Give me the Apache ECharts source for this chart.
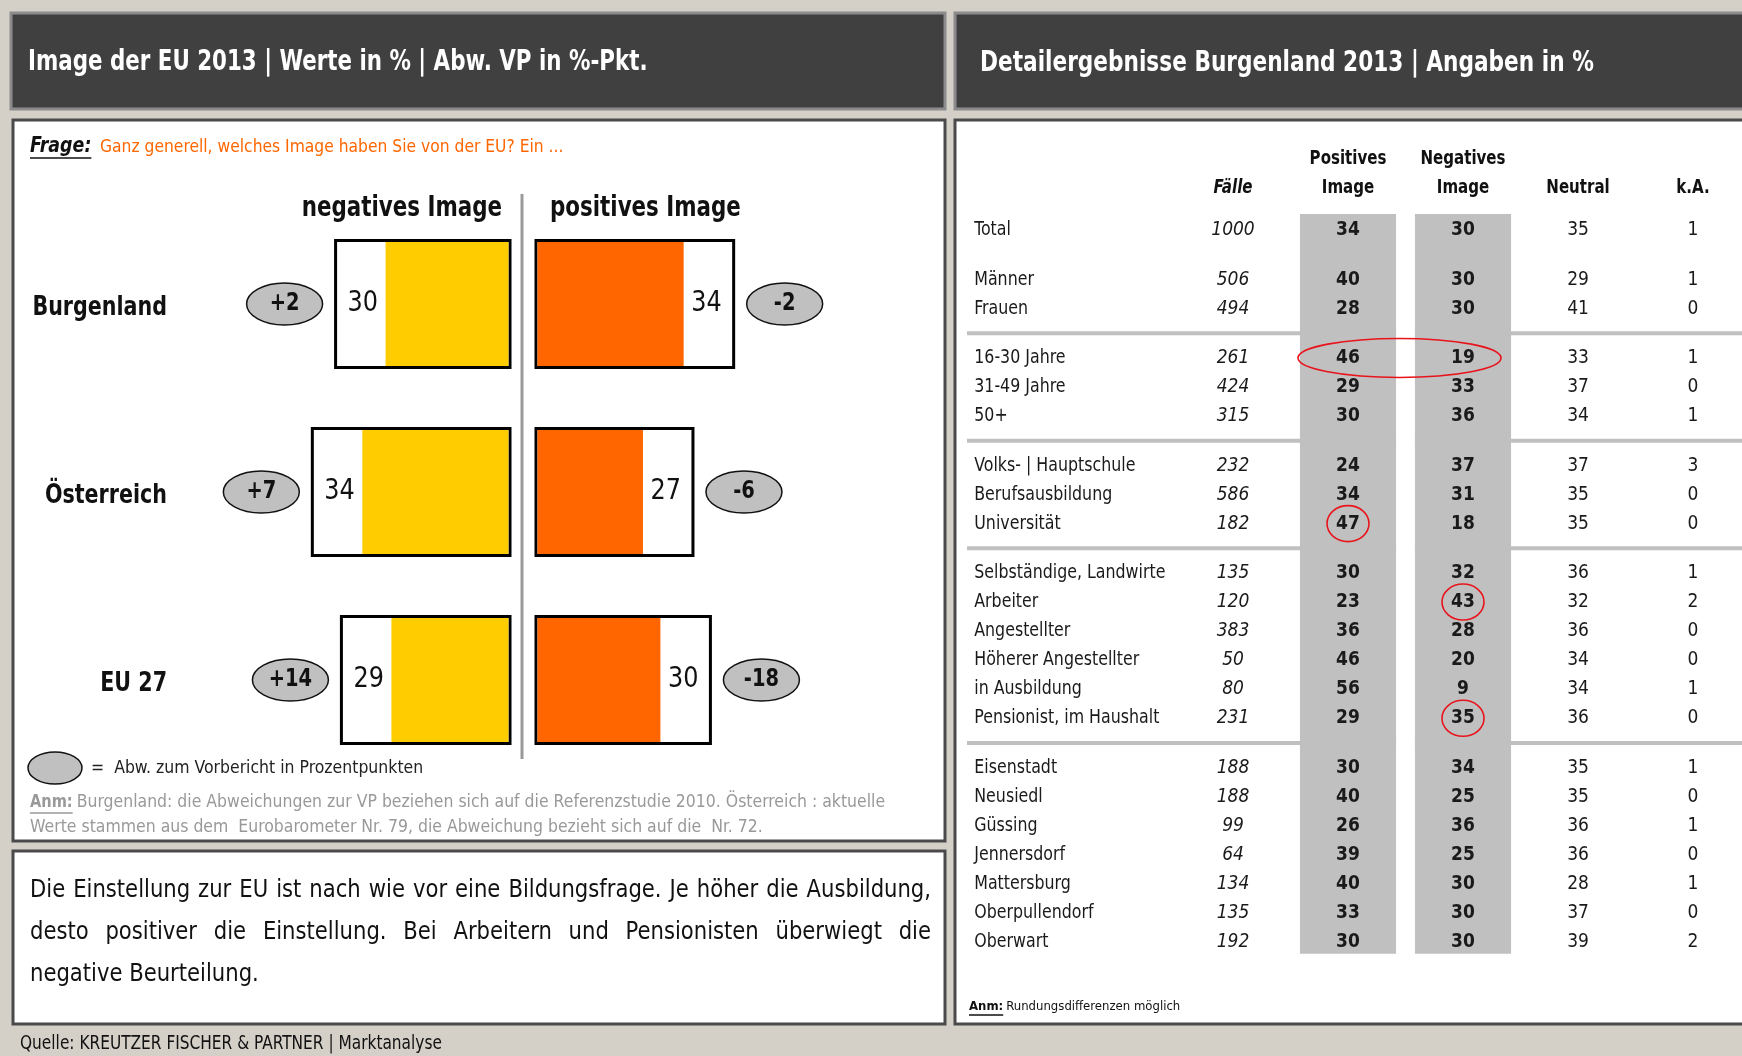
<!DOCTYPE html>
<html>
<head>
<meta charset="utf-8">
<script src="https://cdn.jsdelivr.net/npm/echarts@6/dist/echarts.min.js"></script>
<style>
  html, body { margin: 0; padding: 0; background: #d4d0c8; }
  #main { width: 1742px; height: 1056px; }
</style>
</head>
<body>
<div id="main"></div>
<script>
var FONT = "'Liberation Sans Narrow','DejaVu Sans Condensed','Open Sans',sans-serif";

/* Image der EU - Werte und Abweichungen */
var regions = ['Burgenland', 'Österreich', 'EU 27'];
var negValues = [30, 34, 29];
var posValues = [34, 27, 30];
var negDiff = ['+2', '+7', '+14'];
var posDiff = ['-2', '-6', '-18'];

/* Detailergebnisse Burgenland */
var rowLabels = ['Total', 'Männer', 'Frauen', '16-30 Jahre', '31-49 Jahre', '50+',
    'Volks- | Hauptschule', 'Berufsausbildung', 'Universität',
    'Selbständige, Landwirte', 'Arbeiter', 'Angestellter', 'Höherer Angestellter', 'in Ausbildung', 'Pensionist, im Haushalt',
    'Eisenstadt', 'Neusiedl', 'Güssing', 'Jennersdorf', 'Mattersburg', 'Oberpullendorf', 'Oberwart'];
var rowGroups = [0, 1, 1, 2, 2, 2, 3, 3, 3, 4, 4, 4, 4, 4, 4, 5, 5, 5, 5, 5, 5, 5];
var faelle = [1000, 506, 494, 261, 424, 315, 232, 586, 182, 135, 120, 383, 50, 80, 231, 188, 188, 99, 64, 134, 135, 192];
var positiv = [34, 40, 28, 46, 29, 30, 24, 34, 47, 30, 23, 36, 46, 56, 29, 30, 40, 26, 39, 40, 33, 30];
var negativ = [30, 30, 30, 19, 33, 36, 37, 31, 18, 32, 43, 28, 20, 9, 35, 34, 25, 36, 25, 30, 30, 30];
var neutral = [35, 29, 41, 33, 37, 34, 37, 35, 35, 36, 32, 36, 34, 34, 36, 35, 35, 36, 36, 28, 37, 39];
var keineAngabe = [1, 1, 0, 1, 0, 1, 3, 0, 0, 1, 2, 0, 0, 1, 0, 1, 0, 1, 0, 1, 0, 2];
var columnHeads = [['Fälle'], ['Positives', 'Image'], ['Negatives', 'Image'], ['Neutral'], ['k.A.']];
// row index, first column, last column (1 = Positives, 2 = Negatives)
var highlights = [[3, 1, 2], [8, 1, 1], [10, 2, 2], [14, 2, 2]];

var paragraph = [
    'Die Einstellung zur EU ist nach wie vor eine Bildungsfrage. Je höher die Ausbildung,',
    'desto positiver die Einstellung. Bei Arbeitern und Pensionisten überwiegt die',
    'negative Beurteilung.'
];

/* row positions: one unit per row, extra gap between groups */
var rowPos = rowLabels.map(function (l, i) { return i + rowGroups[i] * 0.7; });

var measure = document.createElement('canvas').getContext('2d');
function textWidth(t, font) {
    measure.font = font;
    return measure.measureText(t).width;
}

// text element, sx squeezes it horizontally (the original uses a condensed face)
function txt(x, y, text, font, fill, align, sx) {
    return {
        type: 'text', x: x, y: y, scaleX: sx || 1,
        style: {
            text: text, font: font, fill: fill,
            align: align || 'left', verticalAlign: 'middle',
            textAlign: align || 'left', textVerticalAlign: 'middle'
        }
    };
}

function panel(x, y, w, h, fill, stroke) {
    return {
        type: 'rect', shape: { x: x, y: y, width: w, height: h },
        style: { fill: fill, stroke: stroke, lineWidth: 3 }
    };
}

function underline(x, y, w, color) {
    return { type: 'line', shape: { x1: x, y1: y, x2: x + w, y2: y }, style: { stroke: color, lineWidth: 1.5 } };
}

/* justified paragraph, word by word */
var PARA_FONT = '25px ' + FONT;
var PARA_SX = 0.94;
function paraLine(line, x0, x1, y, justify) {
    var words = line.split(' ');
    var widths = words.map(function (w) { return textWidth(w, PARA_FONT) * PARA_SX; });
    var total = widths.reduce(function (a, b) { return a + b; }, 0);
    var gap = justify ? (x1 - x0 - total) / (words.length - 1) : textWidth(' ', PARA_FONT) * PARA_SX;
    var x = x0, out = [];
    words.forEach(function (w, k) {
        out.push(txt(x, y, w, PARA_FONT, '#111', 'left', PARA_SX));
        x += widths[k] + gap;
    });
    return out;
}

var FRAGE_FONT = 'italic bold 22px ' + FONT;
var ANM_FONT = 'bold 18px ' + FONT;
var ANM2_FONT = 'bold 13px ' + FONT;

var graphics = [
    panel(11, 13, 934, 96, '#404040', '#8c8c8c'),
    panel(955, 13, 800, 96, '#404040', '#8c8c8c'),
    txt(28, 62, 'Image der EU 2013 | Werte in % | Abw. VP in %-Pkt.', 'bold 29px ' + FONT, '#fff', 'left', 0.82),
    txt(980, 63, 'Detailergebnisse Burgenland 2013 | Angaben in %', 'bold 29px ' + FONT, '#fff', 'left', 0.83),
    panel(13, 120, 932, 721, '#fff', '#4a4a4a'),
    panel(13, 851, 932, 173, '#fff', '#4a4a4a'),
    panel(955, 120, 800, 904, '#fff', '#4a4a4a'),

    txt(30, 146, 'Frage:', FRAGE_FONT, '#111', 'left', 0.88),
    underline(30, 158, textWidth('Frage:', FRAGE_FONT) * 0.88, '#111'),
    txt(100, 147, 'Ganz generell, welches Image haben Sie von der EU? Ein ...', '18px ' + FONT, '#ff6600', 'left', 0.96),

    txt(502, 208, 'negatives Image', 'bold 29px ' + FONT, '#111', 'right', 0.82),
    txt(550, 208, 'positives Image', 'bold 29px ' + FONT, '#111', 'left', 0.82),
    { type: 'line', shape: { x1: 522, y1: 194, x2: 522, y2: 759 }, style: { stroke: '#9a9a9a', lineWidth: 3 } },

    { type: 'ellipse', shape: { cx: 55, cy: 768, rx: 27, ry: 16 }, style: { fill: '#c0c0c0', stroke: '#111', lineWidth: 1.5 } },
    txt(91, 768, '=  Abw. zum Vorbericht in Prozentpunkten', '18px ' + FONT, '#222', 'left', 0.97),

    txt(30, 802, 'Anm:', ANM_FONT, '#999', 'left', 0.9),
    underline(30, 813, textWidth('Anm:', ANM_FONT) * 0.9, '#999'),
    txt(34 + textWidth('Anm:', ANM_FONT) * 0.9, 802,
        'Burgenland: die Abweichungen zur VP beziehen sich auf die Referenzstudie 2010. Österreich : aktuelle', '18px ' + FONT, '#999', 'left', 0.97),
    txt(30, 827, 'Werte stammen aus dem  Eurobarometer Nr. 79, die Abweichung bezieht sich auf die  Nr. 72.', '18px ' + FONT, '#999', 'left', 0.97),

    txt(969, 1007, 'Anm:', ANM2_FONT, '#111'),
    underline(969, 1015, textWidth('Anm:', ANM2_FONT), '#111'),
    txt(972 + textWidth('Anm:', ANM2_FONT), 1007, 'Rundungsdifferenzen möglich', '13px ' + FONT, '#111'),

    txt(20, 1044, 'Quelle: KREUTZER FISCHER & PARTNER | Marktanalyse', '19px ' + FONT, '#111', 'left', 0.9)
];
graphics = graphics
    .concat(paraLine(paragraph[0], 30, 931, 890, true))
    .concat(paraLine(paragraph[1], 30, 931, 932, true))
    .concat(paraLine(paragraph[2], 30, 931, 974, false));

/* framed bars with value strip and deviation bubble */
var STRIP = 50;
function barRenderer(side, colour, diffs) {
    return function (params, api) {
        var v = api.value(0), c = api.value(1);
        var p0 = api.coord([0, c]);
        var p1 = api.coord([v, c]);
        var h = api.size([0, 1])[1] * 0.675;
        var left = Math.min(p0[0], p1[0]), right = Math.max(p0[0], p1[0]);
        var top = p0[1] - h / 2;
        var fill = side === 'neg'
            ? { x: left + STRIP, y: top + 1.5, width: right - left - STRIP - 1.5, height: h - 3 }
            : { x: left + 1.5, y: top + 1.5, width: right - left - STRIP - 1.5, height: h - 3 };
        var labelX = side === 'neg' ? left + 12 : right - 12;
        var bubbleX = side === 'neg' ? left - 13 - 38 : right + 13 + 38;
        return {
            type: 'group',
            children: [
                { type: 'rect', shape: { x: left, y: top, width: right - left, height: h },
                  style: { fill: '#fff', stroke: '#000', lineWidth: 3 } },
                { type: 'rect', shape: fill, style: { fill: colour } },
                txt(labelX, p0[1], String(v), '28px ' + FONT, '#111', side === 'neg' ? 'left' : 'right', 0.95),
                { type: 'ellipse', shape: { cx: bubbleX, cy: p0[1], rx: 38, ry: 21 },
                  style: { fill: '#c0c0c0', stroke: '#111', lineWidth: 1.5 } },
                txt(bubbleX, p0[1], diffs[params.dataIndex], 'bold 24px ' + FONT, '#111', 'center', 0.9)
            ]
        };
    };
}

var cellFonts = ['20px ' + FONT, 'italic 20px ' + FONT, 'bold 20px ' + FONT, 'bold 20px ' + FONT,
    '20px ' + FONT, '20px ' + FONT];

var separators = [];
for (var g = 2; g <= 5; g++) {
    var first = rowGroups.indexOf(g), last = rowGroups.lastIndexOf(g - 1);
    separators.push([(rowPos[first] + rowPos[last]) / 2]);
}

var myChart = echarts.init(document.getElementById('main'));

var option = {
    backgroundColor: '#d4d0c8',
    animation: false,
    graphic: { elements: graphics },
    grid: [
        { left: 167, top: 210, width: 343, height: 564 },
        { left: 536, top: 210, width: 343, height: 564 },
        { left: 980, top: 201, width: 713, height: 755.6 }
    ],
    xAxis: [
        { gridIndex: 0, type: 'value', min: 0, max: 59, inverse: true, show: false },
        { gridIndex: 1, type: 'value', min: 0, max: 59, show: false },
        { gridIndex: 2, type: 'value', min: -2.2, max: 4, show: false }
    ],
    yAxis: [
        { gridIndex: 0, type: 'category', data: regions, inverse: true, show: false },
        { gridIndex: 1, type: 'category', data: regions, inverse: true, show: false },
        { gridIndex: 2, type: 'value', min: -1, max: 25, inverse: true, show: false }
    ],
    series: [
        {
            // region names, right-aligned at the outer edge of the left grid
            type: 'custom', xAxisIndex: 0, yAxisIndex: 0,
            data: regions.map(function (r, i) { return [59, i]; }),
            renderItem: function (params, api) {
                var p = api.coord([api.value(0), api.value(1)]);
                return txt(p[0], p[1] + 4, regions[params.dataIndex], 'bold 27px ' + FONT, '#111', 'right', 0.85);
            }
        },
        {
            type: 'custom', xAxisIndex: 0, yAxisIndex: 0,
            data: negValues.map(function (v, i) { return [v, i]; }),
            renderItem: barRenderer('neg', '#ffcc00', negDiff)
        },
        {
            type: 'custom', xAxisIndex: 1, yAxisIndex: 1,
            data: posValues.map(function (v, i) { return [v, i]; }),
            renderItem: barRenderer('pos', '#ff6600', posDiff)
        },
        {
            // grey column bands
            type: 'custom', xAxisIndex: 2, yAxisIndex: 2, z: 2,
            data: [[1, 0], [2, 0]],
            renderItem: function (params, api) {
                var c = api.value(0);
                var a = api.coord([c - 0.418, -0.55]);
                var b = api.coord([c + 0.418, 24.9]);
                return { type: 'rect', shape: { x: a[0], y: a[1], width: b[0] - a[0], height: b[1] - a[1] },
                    style: { fill: '#c0c0c0' } };
            }
        },
        {
            type: 'custom', xAxisIndex: 2, yAxisIndex: 2, z: 3,
            data: separators.map(function (s) { return [0, s[0]]; }),
            renderItem: function (params, api) {
                var y = api.value(1);
                var a = api.coord([-2.313, y]), b = api.coord([1.418, y]);
                var c = api.coord([1.582, y]), d = api.coord([4.45, y]);
                return {
                    type: 'group', children: [
                        { type: 'line', shape: { x1: a[0], y1: a[1], x2: b[0], y2: b[1] }, style: { stroke: '#c0c0c0', lineWidth: 4 } },
                        { type: 'line', shape: { x1: c[0], y1: c[1], x2: d[0], y2: d[1] }, style: { stroke: '#c0c0c0', lineWidth: 4 } }
                    ]
                };
            }
        },
        {
            // column headings
            type: 'custom', xAxisIndex: 2, yAxisIndex: 2, z: 4,
            data: columnHeads.map(function (h, i) { return [i, -1.45]; }),
            renderItem: function (params, api) {
                var lines = columnHeads[params.dataIndex];
                var font = (params.dataIndex === 0 ? 'italic bold 19px ' : 'bold 19px ') + FONT;
                return {
                    type: 'group', children: lines.map(function (t, k) {
                        var p = api.coord([api.value(0), api.value(1) - (lines.length - 1 - k) * 0.99]);
                        return txt(p[0], p[1], t, font, '#111', 'center', 0.88);
                    })
                };
            }
        },
        {
            // table cells
            type: 'custom', xAxisIndex: 2, yAxisIndex: 2, z: 4,
            data: rowLabels.map(function (l, i) { return [0, rowPos[i]]; }),
            renderItem: function (params, api) {
                var i = params.dataIndex, y = api.value(1);
                var cells = [rowLabels[i], faelle[i], positiv[i], negativ[i], neutral[i], keineAngabe[i]];
                return {
                    type: 'group', children: cells.map(function (t, c) {
                        var p = api.coord([c === 0 ? -2.25 : c - 1, y]);
                        return txt(p[0], p[1], String(t), cellFonts[c], '#1a1a1a', c === 0 ? 'left' : 'center',
                            c === 0 ? 0.88 : 0.95);
                    })
                };
            }
        },
        {
            // red highlight marks
            type: 'custom', xAxisIndex: 2, yAxisIndex: 2, z: 5,
            data: highlights.map(function (h) { return [h[1], rowPos[h[0]], h[2]]; }),
            renderItem: function (params, api) {
                var a = api.coord([api.value(0), api.value(1)]);
                var b = api.coord([api.value(2), api.value(1)]);
                var wide = b[0] - a[0] > 1;
                return {
                    type: 'ellipse',
                    shape: { cx: (a[0] + b[0]) / 2 - (wide ? 6 : 0), cy: a[1],
                             rx: wide ? (b[0] - a[0]) / 2 + 44 : 21, ry: wide ? 19.5 : 18 },
                    style: { fill: 'none', stroke: '#e8141c', lineWidth: 1.6 }
                };
            }
        }
    ]
};

myChart.setOption(option);
</script>
</body>
</html>
